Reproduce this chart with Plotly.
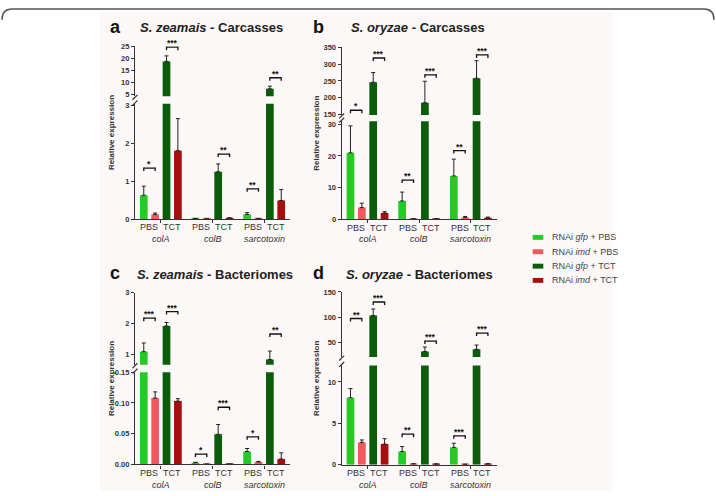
import plotly.graph_objects as go

W, H = 716, 496

# ---------------- data ----------------
genes = ["colA", "colB", "sarcotoxin"]
pair_labels = ["PBS", "TCT"]
legend_labels = ["RNAi <i>gfp</i> + PBS", "RNAi <i>imd</i> + PBS",
                 "RNAi <i>gfp</i> + TCT", "RNAi <i>imd</i> + TCT"]
colors = ["#26c926", "#f2595d", "#0b5d0b", "#a5100f"]

panel_letters = ["a", "b", "c", "d"]
panel_species = ["S. zeamais", "S. oryzae", "S. zeamais", "S. oryzae"]
panel_tissues = ["Carcasses", "Carcasses", "Bacteriomes", "Bacteriomes"]

# rows: gfp+PBS, imd+PBS, gfp+TCT, imd+TCT ; columns: colA, colB, sarcotoxin
a_mean = [[0.63, 0.012, 0.12], [0.12, 0.006, 0.012], [18.7, 1.25, 7.3], [1.81, 0.025, 0.49]]
a_sem = [[0.24, 0.004, 0.05], [0.04, 0.002, 0.003], [2.3, 0.21, 1.1], [0.85, 0.008, 0.29]]
b_mean = [[21.0, 5.8, 13.7], [3.7, 0.15, 0.6], [246, 185, 258], [2.0, 0.1, 0.5]]
b_sem = [[8.5, 2.8, 5.3], [1.4, 0.05, 0.3], [29, 64, 52], [0.4, 0.05, 0.2]]
c_mean = [[1.10, 0.003, 0.021], [0.108, 0.0005, 0.004], [1.93, 0.049, 0.85], [0.103, 0.0005, 0.009]]
c_sem = [[0.28, 0.0005, 0.005], [0.010, 0.0002, 0.001], [0.11, 0.016, 0.27], [0.004, 0.0002, 0.010]]
d_mean = [[8.1, 1.6, 2.1], [2.7, 0.1, 0.05], [103, 31, 35.5], [2.5, 0.08, 0.1]]
d_sem = [[1.1, 0.6, 0.5], [0.3, 0.03, 0.02], [13, 9, 8.5], [0.65, 0.03, 0.03]]

# significance: (gene index, pair 0=PBS 1=TCT, segment, height, label)
a_sig = [(0, 0, "lo", 1.35, "*"), (0, 1, "hi", 24.6, "***"), (1, 1, "lo", 1.72, "**"),
         (2, 0, "lo", 0.80, "**"), (2, 1, "hi", 11.9, "**")]
b_sig = [(0, 0, "hi", 163, "*"), (0, 1, "hi", 318, "***"), (1, 0, "lo", 12.4, "**"),
         (1, 1, "hi", 268, "***"), (2, 0, "lo", 21.7, "**"), (2, 1, "hi", 327, "***")]
c_sig = [(0, 0, "hi", 2.18, "***"), (0, 1, "hi", 2.39, "***"), (1, 0, "lo", 0.017, "*"),
         (1, 1, "lo", 0.093, "***"), (2, 0, "lo", 0.045, "*"), (2, 1, "hi", 1.67, "**")]
d_sig = [(0, 0, "hi", 97, "**"), (0, 1, "hi", 130, "***"), (1, 0, "lo", 3.7, "**"),
         (1, 1, "hi", 52, "***"), (2, 0, "lo", 3.5, "***"), (2, 1, "hi", 68, "***")]

a_lo_ticks, a_hi_ticks = [0, 1, 2, 3], [5, 10, 15, 20, 25]
b_lo_ticks, b_hi_ticks = [0, 10, 20, 30], [150, 200, 250, 300, 350]
c_lo_ticks, c_hi_ticks = [0, 0.05, 0.10, 0.15], [1, 2, 3]
d_lo_ticks, d_hi_ticks = [0, 5, 10], [50, 100, 150]

# ---------------- layout config (pixels) ----------------
panels = [
    dict(mean=a_mean, sem=a_sem, sig=a_sig, xpx=(135, 290), hi=(43, 94), lo=(101.7, 219),
         hr=[4.2, 25], lr=[0, 3.05], ht=a_hi_ticks, lt=a_lo_ticks, lfmt="", title_cx=211, title_y=24,
         letter_x=115, ytitle_x=111.5),
    dict(mean=b_mean, sem=b_sem, sig=b_sig, xpx=(341.7, 496.7), hi=(44, 113), lo=(119.3, 219.3),
         hr=[149, 350], lr=[0, 31], ht=b_hi_ticks, lt=b_lo_ticks, lfmt="", title_cx=418, title_y=24,
         letter_x=318, ytitle_x=316.5),
    dict(mean=c_mean, sem=c_sem, sig=c_sig, xpx=(135, 290), hi=(294, 367.4), lo=(375, 469),
         hr=[0.68, 3], lr=[0, 0.15], ht=c_hi_ticks, lt=c_lo_ticks, lfmt=".2f", title_cx=215, title_y=275,
         letter_x=115, ytitle_x=111.5),
    dict(mean=d_mean, sem=d_sem, sig=d_sig, xpx=(341.7, 496.7), hi=(293.3, 359.6), lo=(368.1, 469.3),
         hr=[20, 150], lr=[0, 12], ht=d_hi_ticks, lt=d_lo_ticks, lfmt="", title_cx=419, title_y=275,
         letter_x=318, ytitle_x=316.5),
]

FONT = "Arial, Liberation Sans, sans-serif"
AX = "#333333"
BARGAP, GROUPGAP = 0.12, 0.32
w = (1 - BARGAP) / 4


def fx(px):
    return px / W


def fy(py):
    return 1 - py / H


fig = go.Figure()
layout = dict(width=W, height=H, margin=dict(l=0, r=0, t=0, b=0),
              paper_bgcolor="white", plot_bgcolor="rgba(0,0,0,0)",
              barmode="group", bargap=BARGAP, bargroupgap=GROUPGAP,
              showlegend=False, font=dict(family=FONT, color=AX))
shapes, annotations = [], []

# faint page background + rounded top frame
shapes.append(dict(type="rect", xref="paper", yref="paper", x0=fx(100), x1=fx(613), y0=0, y1=fy(8),
                   fillcolor="#fdf8f8", line=dict(width=0), layer="below"))
frame = (f"M {fx(2)},{fy(16)} Q {fx(2)},{fy(5)} {fx(12)},{fy(5)} "
         f"L {fx(704)},{fy(5)} Q {fx(714)},{fy(5)} {fx(714)},{fy(16)}")
shapes.append(dict(type="path", xref="paper", yref="paper", path=frame,
                   line=dict(color="#555555", width=1.5)))

for p, P in enumerate(panels):
    xa = "x" if p == 0 else f"x{p + 1}"
    ylo = "y" if p == 0 else f"y{2 * p + 1}"
    yhi = f"y{2 * p + 2}"
    segs = {"lo": ylo, "hi": yhi}
    for seg, ya in segs.items():
        for c in range(4):
            fig.add_trace(go.Bar(
                x=genes, y=P["mean"][c], name=legend_labels[c], xaxis=xa, yaxis=ya,
                marker=dict(color=colors[c], line=dict(width=0)),
                error_y=dict(type="data", symmetric=False, array=P["sem"][c],
                             arrayminus=[0] * len(genes), color="#222222", thickness=1, width=2),
                showlegend=False, hoverinfo="skip"))

    x0, x1 = P["xpx"]
    layout["xaxis" if p == 0 else f"xaxis{p + 1}"] = dict(
        domain=[fx(x0), fx(x1)], anchor=ylo, type="category", range=[-0.5, 2.5],
        showline=True, linecolor=AX, linewidth=1.3, ticks="outside", ticklen=3,
        tickcolor=AX, tickwidth=1.2, showticklabels=False, showgrid=False, zeroline=False)
    common_y = dict(anchor=xa, showline=True, linecolor=AX, linewidth=1.3, ticks="outside",
                    ticklen=3, tickcolor=AX, tickwidth=1.2, showgrid=False, zeroline=False,
                    tickfont=dict(size=7.5, family=FONT, color=AX, weight="bold"))
    lo_top, lo_bot = P["lo"]
    hi_top, hi_bot = P["hi"]
    layout["yaxis" if p == 0 else f"yaxis{2 * p + 1}"] = dict(
        domain=[fy(lo_bot), fy(lo_top)], range=P["lr"], tickvals=P["lt"], tickformat=P["lfmt"], **common_y)
    layout[f"yaxis{2 * p + 2}"] = dict(
        domain=[fy(hi_bot), fy(hi_top)], range=P["hr"], tickvals=P["ht"], **common_y)

    # axis break marks
    for py in (hi_bot + 1, lo_top - 1):
        shapes.append(dict(type="line", xref="paper", yref="paper",
                           x0=fx(x0 - 2.5), y0=fy(py + 2.5), x1=fx(x0 + 2.5), y1=fy(py - 2.5),
                           line=dict(color=AX, width=1.2)))

    # x labels
    for g, gene in enumerate(genes):
        for k, lab in enumerate(pair_labels):
            annotations.append(dict(x=g + (-w if k == 0 else w), y=fy(lo_bot + 8.5), xref=xa, yref="paper",
                                    text=lab, showarrow=False, yanchor="middle",
                                    font=dict(size=9, family=FONT, color=AX)))
        annotations.append(dict(x=g, y=fy(lo_bot + 20.5), xref=xa, yref="paper",
                                text=f"<i>{gene}</i>", showarrow=False, yanchor="middle",
                                font=dict(size=9, family=FONT, color=AX)))

    # significance brackets
    for g, k, seg, yv, lab in P["sig"]:
        ya = segs[seg]
        left = g + (2 * k - 1.5) * w
        right = g + (2 * k + 1 - 1.5) * w
        shapes.append(dict(type="line", xref=xa, yref=ya, x0=left, x1=right, y0=yv, y1=yv,
                           line=dict(color="#111111", width=1.3)))
        for xv in (left, right):
            shapes.append(dict(type="line", xref=xa, yref=ya, x0=xv, x1=xv, ysizemode="pixel",
                               yanchor=yv, y0=0.6, y1=-3, line=dict(color="#111111", width=1.3)))
        annotations.append(dict(x=(left + right) / 2, y=yv, xref=xa, yref=ya, text=lab,
                                showarrow=False, yanchor="bottom", yshift=-3,
                                font=dict(size=8.5, family=FONT, color="#111111", weight="bold")))

    # y axis title
    annotations.append(dict(x=fx(P["ytitle_x"]), y=fy((hi_top + lo_bot) / 2), xref="paper", yref="paper",
                            text="Relative expression", textangle=-90, showarrow=False,
                            xanchor="center", yanchor="middle",
                            font=dict(size=8, family=FONT, color=AX, weight="bold")))
    # panel title and letter
    annotations.append(dict(x=fx(P["title_cx"]), y=fy(P["title_y"]), xref="paper", yref="paper",
                            text=f"<i>{panel_species[p]}</i> - {panel_tissues[p]}", showarrow=False,
                            xanchor="center", yanchor="middle",
                            font=dict(size=13, family=FONT, color="#222222", weight="bold")))
    annotations.append(dict(x=fx(P["letter_x"]), y=fy(P["title_y"] - 1), xref="paper", yref="paper",
                            text=panel_letters[p], showarrow=False, xanchor="center", yanchor="middle",
                            font=dict(size=18, family=FONT, color="#111111", weight="bold")))

# manual legend
legend_rows = [237.7, 252.3, 267, 281.5]
for c, lab in enumerate(legend_labels):
    yc = legend_rows[c]
    shapes.append(dict(type="rect", xref="paper", yref="paper", x0=fx(532.7), x1=fx(543.3),
                       y0=fy(yc + 2.5), y1=fy(yc - 2.5), fillcolor=colors[c], line=dict(width=0)))
    annotations.append(dict(x=fx(550), y=fy(yc), xref="paper", yref="paper", text=lab,
                            showarrow=False, xanchor="left", yanchor="middle",
                            font=dict(size=9, family=FONT, color="#444444")))

layout["shapes"] = shapes
layout["annotations"] = annotations
fig.update_layout(**layout)
fig.write_html("out.html")
